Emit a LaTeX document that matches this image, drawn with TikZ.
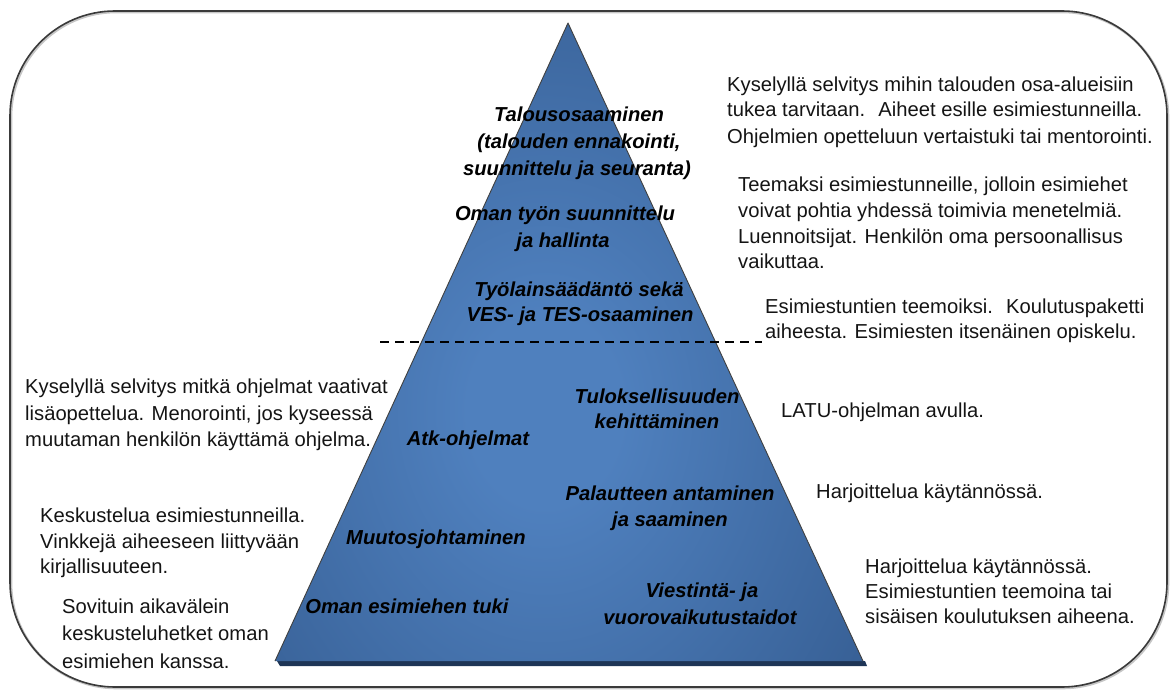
\documentclass[tikz,border=0pt]{standalone}
\usepackage{fontspec}
\setmainfont{Liberation Sans}
\definecolor{pyrlight}{HTML}{4F80BE}
\definecolor{pyrdark}{HTML}{335A8E}
\definecolor{pyrshadow}{HTML}{1E3556}
\definecolor{framecol}{HTML}{3A3A3A}
\pgfdeclareradialshading{pyrshade}{\pgfpoint{0bp}{0bp}}{color(0bp)=(pyrlight); color(6bp)=(pyrlight); color(34bp)=(pyrdark); color(50bp)=(pyrdark)}
\tikzset{
  note/.style={anchor=base west, inner sep=0pt, font=\fontsize{20.2}{24}\selectfont, text=black!92},
  lab/.style={anchor=base, inner sep=0pt, font=\fontsize{20.2}{24}\selectfont\bfseries\itshape, text=black},
  frameline/.style={draw=framecol, line width=1.6pt, rounded corners=105pt},
  divider/.style={draw=black, line width=1.6pt, dash pattern=on 9pt off 6pt},
}
\begin{document}
\begin{tikzpicture}[x=1pt,y=-1pt]
\useasboundingbox (0,0) rectangle (1172,690);
% frame
\draw[frameline, draw=gray!45, line width=2.6pt] (11,12) rectangle (1168,688);
\draw[frameline] (10,11) rectangle (1167,687);
% pyramid
\coordinate (apex) at (568,23);
\coordinate (bl) at (275,661);
\coordinate (br) at (863,661);
\fill[pyrshadow] (277,661) -- (865,661) -- (867,666) -- (280,666) -- cycle;
\begin{scope}
  \clip (apex) -- (br) -- (bl) -- cycle;
  \shade[shading=pyrshade] (225,10) rectangle (865,810);
\end{scope}
\draw[black!75, line width=0.9pt, line join=round] (bl) -- (apex) -- (br);
% divider
\coordinate (d1) at (380,342);
\coordinate (d2) at (762,342);
\draw[divider] (d1) -- (d2);
% pyramid labels
\node[lab] (l1a) at (579,122) {Talousosaaminen};
\node[lab] (l1b) at (579,149) {(talouden ennakointi,};
\node[lab] (l1c) at (577,175) {suunnittelu ja seuranta)};
\node[lab] (l2a) at (565,220) {Oman työn suunnittelu};
\node[lab] (l2b) at (563,247) {ja hallinta};
\node[lab] (l3a) at (579,296) {Työlainsäädäntö sekä};
\node[lab] (l3b) at (580,321) {VES- ja TES-osaaminen};
\node[lab] (l4) at (468,445) {Atk-ohjelmat};
\node[lab] (l5) at (436,544) {Muutosjohtaminen};
\node[lab] (l6) at (407,613) {Oman esimiehen tuki};
\node[lab] (l7a) at (657,403) {Tuloksellisuuden};
\node[lab] (l7b) at (657,428) {kehittäminen};
\node[lab] (l8a) at (670,500) {Palautteen antaminen};
\node[lab] (l8b) at (670,526) {ja saaminen};
\node[lab] (l9a) at (702,597) {Viestintä- ja};
\node[lab] (l9b) at (700,624) {vuorovaikutustaidot};
% right notes
\node[note] (r1a) at (727,92) {Kyselyllä selvitys mihin talouden osa-alueisiin};
\node[note] (r1b) at (727,117) {tukea tarvitaan.~ Aiheet esille esimiestunneilla.};
\node[note] (r1c) at (727,143) {Ohjelmien opetteluun vertaistuki tai mentorointi.};
\node[note] (r2a) at (738,191) {Teemaksi esimiestunneille, jolloin esimiehet};
\node[note] (r2b) at (738,217) {voivat pohtia yhdessä toimivia menetelmiä.};
\node[note] (r2c) at (738,243) {Luennoitsijat. Henkilön oma persoonallisus};
\node[note] (r2d) at (738,268) {vaikuttaa.};
\node[note] (r3a) at (765,313) {Esimiestuntien teemoiksi.~ Koulutuspaketti};
\node[note] (r3b) at (765,338) {aiheesta. Esimiesten itsenäinen opiskelu.};
\node[note] (r4) at (781,417) {LATU-ohjelman avulla.};
\node[note] (r5) at (816,498) {Harjoittelua käytännössä.};
\node[note] (r6a) at (865,573) {Harjoittelua käytännössä.};
\node[note] (r6b) at (865,598) {Esimiestuntien teemoina tai};
\node[note] (r6c) at (865,623) {sisäisen koulutuksen aiheena.};
% left notes
\node[note] (s1a) at (25,393) {Kyselyllä selvitys mitkä ohjelmat vaativat};
\node[note] (s1b) at (25,420) {lisäopettelua. Menorointi, jos kyseessä};
\node[note] (s1c) at (25,446) {muutaman henkilön käyttämä ohjelma.};
\node[note] (s2a) at (40,522) {Keskustelua esimiestunneilla.};
\node[note] (s2b) at (40,548) {Vinkkejä aiheeseen liittyvään};
\node[note] (s2c) at (40,573) {kirjallisuuteen.};
\node[note] (s3a) at (62,613) {Sovituin aikavälein};
\node[note] (s3b) at (62,640) {keskusteluhetket oman};
\node[note] (s3c) at (62,668) {esimiehen kanssa.};
\end{tikzpicture}
\end{document}
